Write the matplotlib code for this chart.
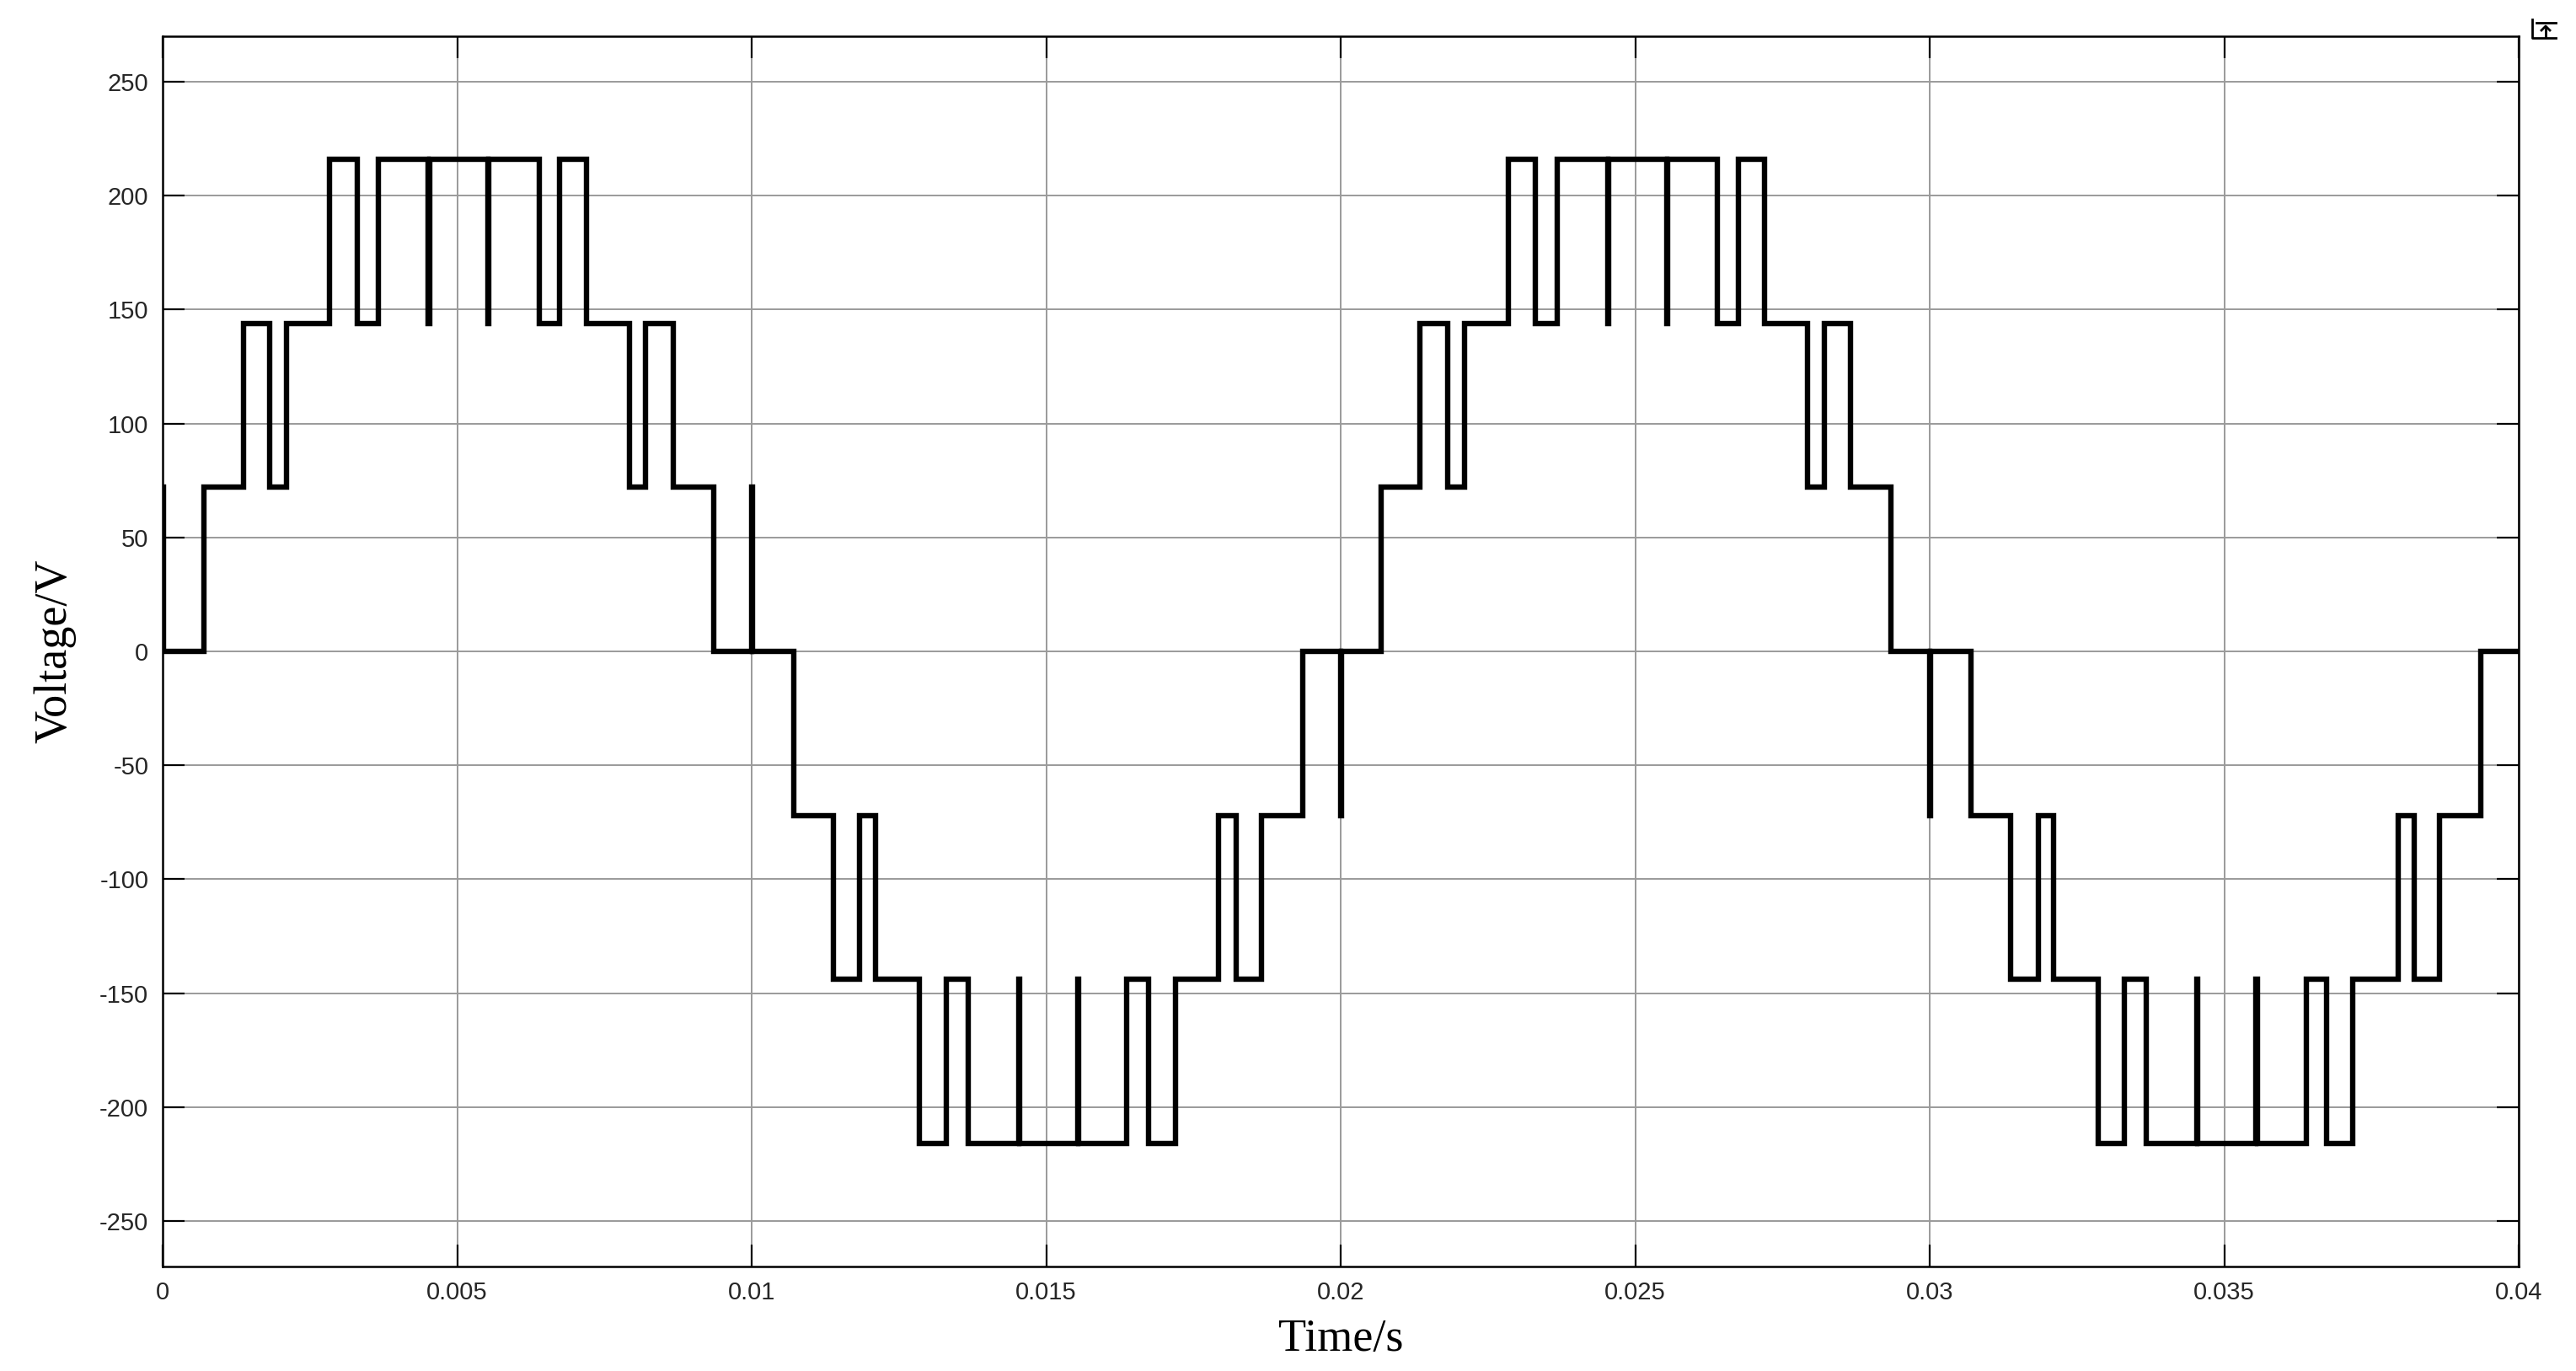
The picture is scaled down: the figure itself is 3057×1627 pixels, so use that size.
import numpy as np
import matplotlib
matplotlib.use('Agg')
import matplotlib.pyplot as plt
from matplotlib.lines import Line2D

plt.rcParams['axes.unicode_minus'] = False

# switching instants (s) and the output level (V) held from that instant on
switch_times = [
    0.0, 0.00002, 0.00070, 0.00137, 0.00181, 0.00210, 0.00283, 0.00331, 0.00366,
    0.00451, 0.00453, 0.00552, 0.00554, 0.00639, 0.00674, 0.00719, 0.00792,
    0.00820, 0.00867, 0.00936, 0.01000, 0.01002,
    0.01071, 0.01139, 0.01183, 0.01211, 0.01285, 0.01330, 0.01367,
    0.01453, 0.01455, 0.01553, 0.01555, 0.01636, 0.01674, 0.01719, 0.01792,
    0.01823, 0.01866, 0.01936, 0.02000, 0.02002,
    0.02068, 0.02135, 0.02182, 0.02210, 0.02285, 0.02331, 0.02367,
    0.02453, 0.02455, 0.02553, 0.02555, 0.02639, 0.02675, 0.02719, 0.02793,
    0.02821, 0.02865, 0.02934, 0.03000, 0.03002,
    0.03070, 0.03138, 0.03184, 0.03211, 0.03286, 0.03331, 0.03368,
    0.03453, 0.03455, 0.03554, 0.03556, 0.03639, 0.03674, 0.03718, 0.03795,
    0.03822, 0.03865, 0.03935, 0.04000,
]
levels = [
    72, 0, 72, 144, 72, 144, 216, 144, 216,
    144, 216, 144, 216, 144, 216, 144, 72,
    144, 72, 0, 72, 0,
    -72, -144, -72, -144, -216, -144, -216,
    -144, -216, -144, -216, -144, -216, -144, -72,
    -144, -72, 0, -72, 0,
    72, 144, 72, 144, 216, 144, 216,
    144, 216, 144, 216, 144, 216, 144, 72,
    144, 72, 0, -72, 0,
    -72, -144, -72, -144, -216, -144, -216,
    -144, -216, -144, -216, -144, -216, -144, -72,
    -144, -72, 0, 0,
]

x_ticks = [0, 0.005, 0.01, 0.015, 0.02, 0.025, 0.03, 0.035, 0.04]
x_labels = ['0', '0.005', '0.01', '0.015', '0.02', '0.025', '0.03', '0.035', '0.04']
y_ticks = [-250, -200, -150, -100, -50, 0, 50, 100, 150, 200, 250]

W, H = 3057, 1627
fig = plt.figure(figsize=(W / 100, H / 100), dpi=100)
ax = fig.add_axes([193 / W, 1 - 1503 / H, (2989 - 193) / W, (1503 - 43) / H])

ax.step(switch_times, levels, where='post', color='black', linewidth=4.6,
        solid_joinstyle='miter', zorder=3)

ax.set_xlim(0, 0.04)
ax.set_ylim(-270, 270)
ax.set_xticks(x_ticks)
ax.set_xticklabels(x_labels)
ax.set_yticks(y_ticks)
ax.grid(True, color='#9a9a9a', linewidth=1.4)
ax.set_axisbelow(True)

for sp in ax.spines.values():
    sp.set_linewidth(1.8)
ax.tick_params(direction='in', length=19, width=1.6, top=True, right=True,
               labelsize=21, labelcolor='#262626', pad=12)
for lab in ax.get_xticklabels() + ax.get_yticklabels():
    lab.set_family('Liberation Sans')

ax.set_xlabel('Time/s', family='Liberation Serif', fontsize=39, labelpad=12)
ax.set_ylabel('Voltage/V', family='Liberation Serif', fontsize=39, labelpad=20)

# small window icon at the top right corner
def px(x, y):
    return x / W, 1 - y / H

icon = [
    [(3005, 23), (3005, 45), (3033, 45)],
    [(3010, 27), (3033, 27)],
    [(3021, 44), (3021, 32)],
    [(3016, 36), (3021, 31), (3026, 36)],
]
for seg in icon:
    xs, ys = zip(*[px(*p) for p in seg])
    fig.add_artist(Line2D(xs, ys, color='black', linewidth=2.0))

fig.savefig('out.png', dpi=100, facecolor='white')
